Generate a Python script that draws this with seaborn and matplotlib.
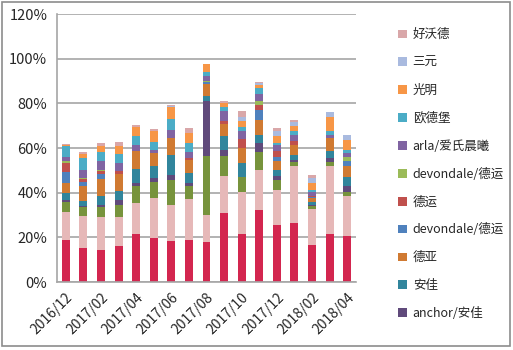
import numpy as np
import pandas as pd
import matplotlib
matplotlib.use("Agg")
import matplotlib.pyplot as plt
from matplotlib.patches import Patch, Rectangle
from matplotlib.ticker import FuncFormatter
import seaborn as sns

months = ["2016/12", "2017/01", "2017/02", "2017/03", "2017/04", "2017/05",
          "2017/06", "2017/07", "2017/08", "2017/09", "2017/10", "2017/11",
          "2017/12", "2018/01", "2018/02", "2018/03", "2018/04"]

# share per brand (%), bottom of stack first
other_a = [19, 15.4, 14.5, 16, 21.7, 19.7, 18.4, 18.7, 18.1, 30.8, 21.5, 32.4, 25.4, 26.4, 16.7, 21.6, 20.4]
other_b = [12.2, 14.2, 14.6, 13, 13.5, 17.7, 16, 18.3, 11.9, 16.7, 19, 17.9, 15.9, 25.4, 16, 30.2, 18.2]
other_c = [4.5, 3.9, 4.5, 5.6, 7.9, 7.5, 11.3, 6, 26.5, 9, 6.5, 7.7, 4.2, 1.8, 1.2, 1.8, 1.9]
anchor_anjia = [1.2, 0.6, 1, 2.3, 1.1, 1.5, 2.2, 1.2, 24.6, 2.7, 0, 4.2, 1.8, 1.2, 0.5, 1.9, 2.3]
anjia = [3, 2.3, 4.1, 3.7, 6.3, 5.6, 9, 4.5, 2.4, 6, 6.2, 3.8, 3, 2.2, 1.5, 3, 4.4]
deya = [4.5, 6.4, 7.4, 7.9, 8.2, 5.7, 7.5, 6, 5.1, 5.7, 7, 6.7, 3.7, 4.5, 1.5, 6, 4.8]
devondale_2 = [4.7, 1.8, 2.4, 0, 0, 0, 0, 0, 0.8, 0, 0, 4.5, 2, 0, 0.7, 0, 2]
deyun = [4.2, 1.5, 1, 1.1, 0, 0, 0, 0.7, 0.3, 1, 3.8, 1.9, 2.5, 1.5, 0.3, 0, 0]
devondale_1 = [0.8, 0.3, 0.8, 0, 0, 0, 0, 0, 0.3, 0, 0, 1.8, 0, 0, 0.3, 0, 1.9]
arla = [1.9, 3.9, 3.7, 3.7, 2.7, 1.5, 3.5, 3, 2.2, 4.5, 3.4, 3.3, 3, 2.7, 1.8, 1.5, 1.8]
oudebao = [4.8, 5.2, 4, 4.1, 3.8, 3.3, 5.2, 3.8, 1.9, 1.9, 2, 2.7, 0.7, 1.8, 0.7, 1.5, 1.2]
guangming = [0.5, 1.8, 3, 3.4, 4.2, 4.9, 5.3, 4.5, 3.3, 1.8, 2.5, 1.5, 3.3, 2.2, 3, 6.4, 4.8]
sanyuan = [0, 0, 0, 0, 0, 0, 0.2, 0, 0, 0, 2, 0.8, 2, 1.8, 2.3, 2.1, 1.9]
haowode = [0.7, 0.9, 1.3, 2, 1, 1.1, 0.8, 2.2, 0.3, 1.1, 2.5, 0.4, 1.5, 1.2, 1.2, 0, 0]

series = [
    ("", other_a, "#D3264F"),
    ("", other_b, "#E6B8B8"),
    ("", other_c, "#77933C"),
    ("anchor/安佳", anchor_anjia, "#604A7B"),
    ("安佳", anjia, "#31859C"),
    ("德亚", deya, "#D07A32"),
    ("devondale/德运", devondale_2, "#4F81BD"),
    ("德运", deyun, "#C0504D"),
    ("devondale/德运", devondale_1, "#9BBB59"),
    ("arla/爱氏晨曦", arla, "#8064A2"),
    ("欧德堡", oudebao, "#4BACC6"),
    ("光明", guangming, "#F79646"),
    ("三元", sanyuan, "#A9BADF"),
    ("好沃德", haowode, "#D9A7A9"),
]

sns.set_style("white")
plt.rcParams["font.family"] = ["Noto Sans CJK SC", "DejaVu Sans"]

fig = plt.figure(figsize=(5.13, 3.5), dpi=100)
ax = fig.add_axes([57 / 513, 1 - 282 / 350, 299 / 513, 268 / 350])

# stacked bars: draw cumulative totals from the top layer down
cum = np.cumsum([s[1] for s in series], axis=0)
for i in range(len(series) - 1, -1, -1):
    df = pd.DataFrame({"month": months, "value": cum[i]})
    sns.barplot(data=df, x="month", y="value", color=series[i][2], width=0.45,
                errorbar=None, saturation=1, ax=ax, linewidth=0)

ax.set_ylim(0, 120)
ax.set_xlim(-0.5, len(months) - 0.5)
ax.set_yticks(range(0, 121, 20))
ax.yaxis.set_major_formatter(FuncFormatter(lambda v, p: f"{v:.0f}%"))
ax.grid(axis="y", color="#A6A6A6", linewidth=1.2)
ax.set_axisbelow(True)
ax.set_xlabel("")
ax.set_ylabel("")

ax.set_xticks(range(0, len(months), 2))
ax.set_xticklabels(months[::2], rotation=45, ha="right", rotation_mode="anchor")
ax.set_xticks(np.arange(-0.5, len(months), 2), minor=True)
ax.tick_params(axis="x", which="major", length=0, pad=6, labelsize=10)
ax.tick_params(axis="x", which="minor", length=4, width=1, color="#A6A6A6")
ax.tick_params(axis="y", length=4, width=1, color="#A6A6A6", labelsize=10.5, pad=3)

for side in ["top", "right"]:
    ax.spines[side].set_visible(False)
for side in ["left", "bottom"]:
    ax.spines[side].set_color("#A6A6A6")
    ax.spines[side].set_linewidth(1.2)

handles = [Patch(facecolor=c, edgecolor="none", label=n) for n, v, c in series[3:]][::-1]
fig.legend(handles=handles, loc="upper left", bbox_to_anchor=(387 / 513, 1 - 17 / 350),
           frameon=False, fontsize=9, handlelength=0.7, handleheight=0.7,
           handletextpad=0.45, labelspacing=1.19)

fig.patches.append(Rectangle((2 / 513, 4 / 350), 508 / 513, 344 / 350, transform=fig.transFigure,
                             fill=False, edgecolor="#8C8C8C", linewidth=1.2))

fig.savefig("out.png", dpi=100)
